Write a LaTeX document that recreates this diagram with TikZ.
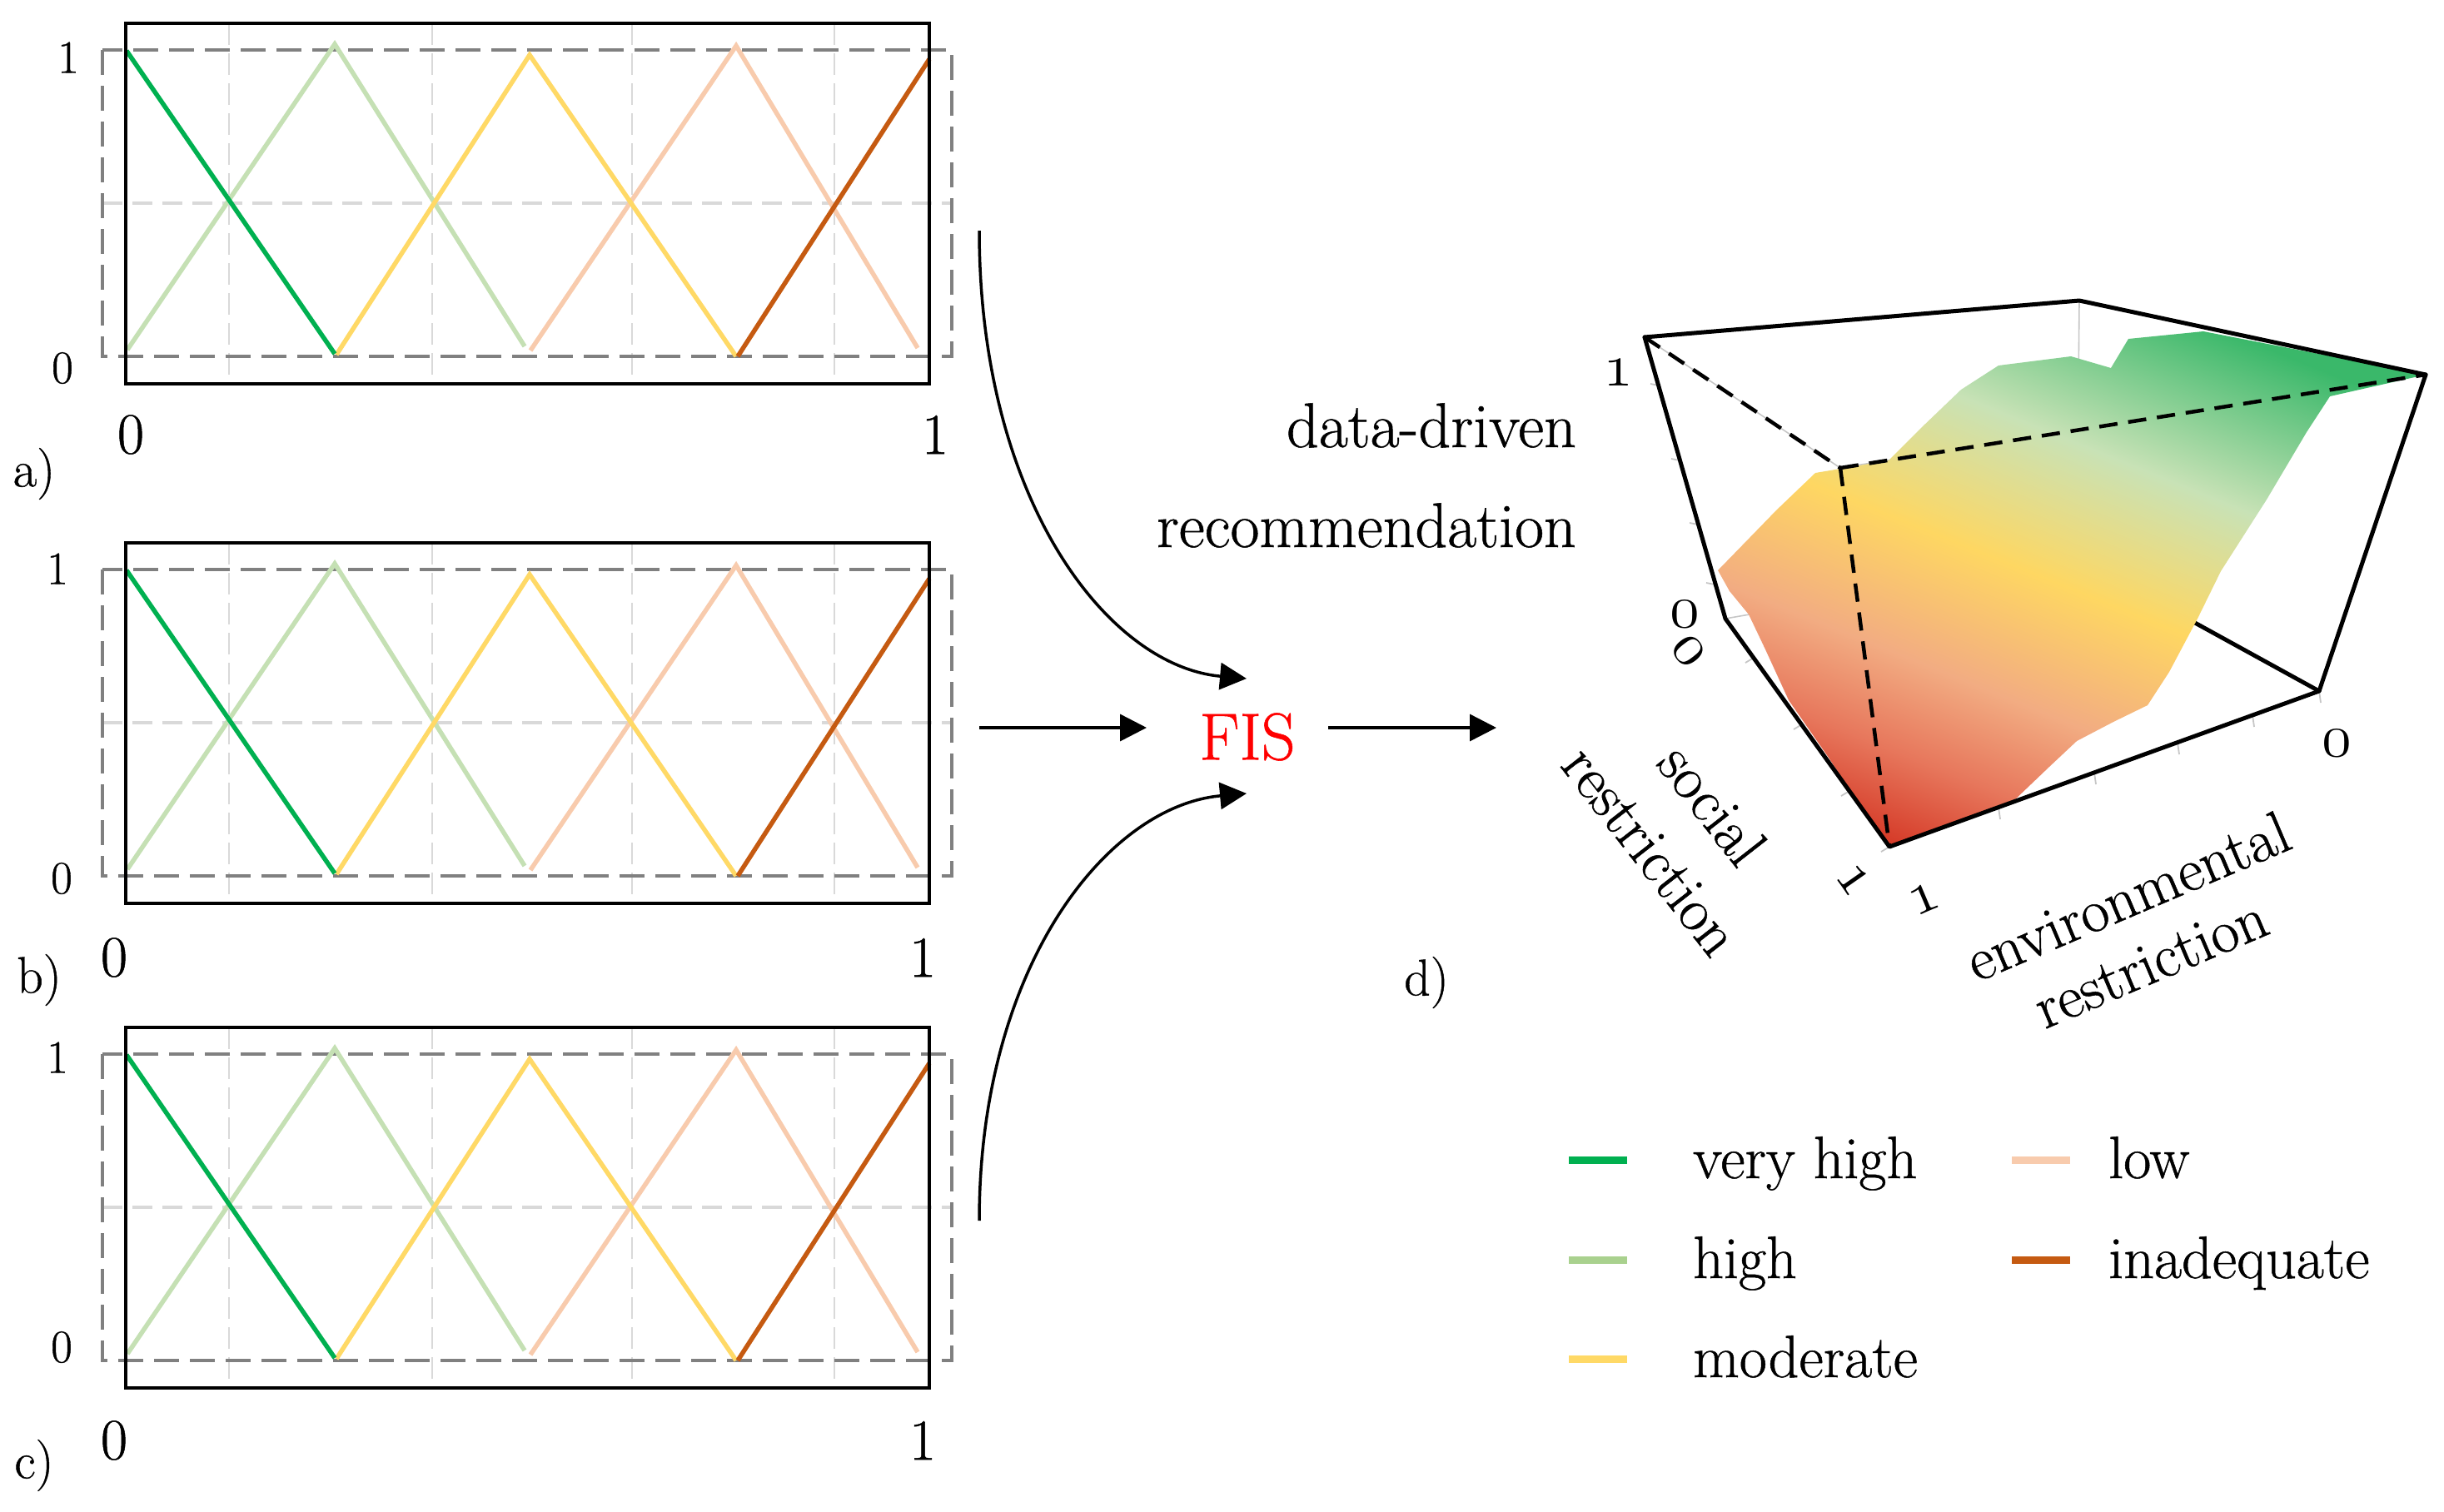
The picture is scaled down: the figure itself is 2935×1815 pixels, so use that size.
\RequirePackage{fix-cm}
\documentclass[tikz,border=0pt]{standalone}
\usepackage{fontspec}
\setmainfont{Latin Modern Roman}[FakeBold=0.7]
\usetikzlibrary{arrows.meta}
\definecolor{vhigh}{HTML}{00B050}
\definecolor{high}{HTML}{C5E0B4}
\definecolor{leghigh}{HTML}{A9D18E}
\definecolor{moder}{HTML}{FFD966}
\definecolor{lowc}{HTML}{F8CBAD}
\definecolor{inad}{HTML}{C55A11}
\definecolor{dgray}{HTML}{808080}
\definecolor{lgray}{HTML}{D9D9D9}
\definecolor{sred}{HTML}{D2301F}
\definecolor{sorr}{HTML}{E7775C}
\definecolor{ssal}{HTML}{F2AC82}
\definecolor{syel}{HTML}{FED762}
\definecolor{slg}{HTML}{C8E2B6}
\definecolor{sgr}{HTML}{3AB86A}
\pgfdeclareverticalshading{surfshade}{100bp}{color(0bp)=(sred); color(22bp)=(sred); color(31bp)=(sorr); color(39bp)=(ssal); color(50bp)=(syel); color(62bp)=(slg); color(76bp)=(sgr); color(100bp)=(sgr)}
\newcommand\osn[1]{{\usefont{OML}{cmm}{m}{it}#1}}
\newcommand\fsY{\fontsize{56}{67}\selectfont}
\newcommand\fsX{\fontsize{70}{84}\selectfont}
\newcommand\fsP{\fontsize{62}{74}\selectfont}
\newcommand\fsL{\fontsize{72}{86}\selectfont}
\newcommand\fsT{\fontsize{73}{88}\selectfont}
\newcommand\fsR{\fontsize{76}{90}\selectfont}
\newcommand\fsF{\fontsize{80}{96}\selectfont}
\tikzset{
  frame/.style={draw=black, line width=4.5pt},
  drect/.style={draw=dgray, line width=3.5pt, dash pattern=on 30pt off 13pt},
  midl/.style={draw=lgray, line width=3.5pt, dash pattern=on 24pt off 12pt},
  gridv/.style={draw=lgray, line width=2pt, dash pattern=on 26pt off 10pt},
  mf/.style={line width=5.5pt},
  arr/.style={draw, line width=3.5pt, -{Triangle[length=32pt,width=32pt]}},
  edgeA/.style={draw, line width=5pt, line cap=round, line join=round},
  dashA/.style={draw, line width=4.5pt, dash pattern=on 22pt off 13pt},
  hid/.style={draw=gray!45, line width=1.6pt},
  tickA/.style={draw=gray!45, line width=1.8pt},
  leg/.style={line width=9pt},
  ylab/.style={inner sep=0pt, font=\fsY},
  xlab/.style={inner sep=0pt, font=\fsX},
  plab/.style={inner sep=0pt, font=\fsP},
  legt/.style={inner sep=0pt, font=\fsL, anchor=base west},
  tlab/.style={inner sep=0pt, font=\fsT},
}
\newcommand\mfpanel[1]{%
\begin{scope}[shift={(0,#1)}]
  \foreach \gx in {275,519,759,1002} \draw[gridv] (\gx,0) -- (\gx,433);
  \draw[midl] (123,216) -- (1143,216);
  \draw[drect] (123,32) rectangle (1143,400);
  \draw[mf, high] (153,392) -- (402,25) -- (630,388);
  \draw[mf, lowc] (637,393) -- (884,27) -- (1102,390);
  \draw[mf, moder] (404,398) -- (636,38) -- (884,400);
  \draw[mf, vhigh] (152,33) -- (402,397);
  \draw[mf, inad] (886,400) -- (1116,43);
  \draw[frame] (151,0) rectangle (1116,433);
\end{scope}}
\begin{document}
\begin{tikzpicture}[x=1pt, y=-1pt]
\useasboundingbox (0,0) rectangle (2935,1815);
% ---- panels a), b), c)
\mfpanel{28}
\mfpanel{652}
\mfpanel{1234}
\node[ylab] (ay1) at (82,69) {1};
\node[ylab] (ay0) at (75,442) {0};
\node[xlab] (ax0) at (157,522) {0};
\node[xlab] (ax1) at (1123,522) {1};
\node[plab] (al) at (41,569) {a)};
\node[ylab] (by1) at (69,683) {1};
\node[ylab] (by0) at (74,1055) {0};
\node[xlab] (bx0) at (137,1150) {0};
\node[xlab] (bx1) at (1108,1150) {1};
\node[plab] (bl) at (47,1177) {b)};
\node[ylab] (cy1) at (69,1270) {1};
\node[ylab] (cy0) at (74,1618) {0};
\node[xlab] (cx0) at (137,1730) {0};
\node[xlab] (cx1) at (1108,1730) {1};
\node[plab] (cl) at (41,1760) {c)};
% ---- FIS and arrows
\node[inner sep=0pt, font=\fsF, text={rgb,255:red,255;green,0;blue,0}] (fis) at (1498,885) {FIS};
\coordinate (ca) at (1176,277);
\coordinate (cb) at (1176,874);
\coordinate (cc) at (1176,1466);
\coordinate (fa) at (1497,815);
\coordinate (fb) at (1377,874);
\coordinate (fc) at (1497,953);
\coordinate (fo) at (1595,874);
\coordinate (dd) at (1797,874);
\draw[arr] (ca) .. controls (1176,600) and (1330,800) .. (fa);
\draw[arr] (cb) -- (fb);
\draw[arr] (cc) .. controls (1176,1160) and (1330,968) .. (fc);
\draw[arr] (fo) -- (dd);
% ---- 3D plot
\coordinate (A) at (1975,405);
\coordinate (B) at (2497,361);
\coordinate (C) at (2913,450);
\coordinate (D) at (2210,562);
\coordinate (E) at (2072,743);
\coordinate (F) at (2269,1017);
\coordinate (G) at (2785,830);
\coordinate (K) at (2494,670);
\draw[hid] (B) -- (K);
\draw[hid] (E) -- (K);
\draw[hid] (A) -- (D) -- (C);
\draw[edgeA] (G) -- (K);
\shade[shading=surfshade, shading angle=-22]
  (2063,685) -- (2100,647) -- (2133,613) -- (2180,568) -- (2210,563) -- (2268,553)
  -- (2307,514) -- (2355,468) -- (2400,439) -- (2487,428) -- (2535,442) -- (2556,407)
  -- (2646,398) -- (2913,450) -- (2798,476) -- (2770,519) -- (2722,600) -- (2667,686)
  -- (2639,743) -- (2605,807) -- (2579,847) -- (2538,867) -- (2494,890) -- (2462,920)
  -- (2418,962) -- (2270,1016) -- (2245,985) -- (2196,910) -- (2148,841) -- (2120,780)
  -- (2100,738) -- (2077,710) -- cycle;
\foreach \xa/\ya/\xb/\yb in {1992/463/1982/461, 2017/553/2007/551, 2039/630/2029/628, 2059/702/2049/700,
  2106/790/2096/796, 2164/870/2154/876, 2221/950/2211/956, 2269/1017/2259/1023,
  2400/970/2402/984, 2515/928/2517/942, 2615/892/2617/906, 2705/859/2707/873, 2785/830/2787/844}
  \draw[tickA] (\xa,\ya) -- (\xb,\yb);
\draw[edgeA] (A) -- (B) -- (C);
\draw[edgeA] (A) -- (E) -- (F) -- (G) -- (C);
\draw[dashA] (A) -- (D);
\draw[dashA] (D) -- (C);
\draw[dashA] (D) -- (F);
\node[tlab] (z1) at (1943,448) {\osn{1}};
\node[tlab] (z0) at (2023,738) {\osn{0}};
\node[tlab, rotate=-52] (s0) at (2028,782) {\osn{0}};
\node[tlab, rotate=-55] (s1) at (2226,1057) {\osn{1}};
\node[tlab, rotate=23] (e1) at (2311,1080) {\osn{1}};
\node[tlab] (e0) at (2806,893) {\osn{0}};
\node[tlab, rotate=-52] (soc) at (2057,966) {social};
\node[tlab, rotate=-52] (socr) at (1982,1022) {restriction};
\node[tlab, rotate=23] (env) at (2555,1076) {environmental};
\node[tlab, rotate=23] (envr) at (2583,1157) {restriction};
\node[inner sep=0pt, font=\fsR, anchor=base east] (ddr) at (1893,537) {data-driven};
\node[inner sep=0pt, font=\fsR, anchor=base east] (rec) at (1893,657) {recommendation};
\node[plab] (dl) at (1713,1180) {d)};
% ---- legend
\draw[leg, vhigh] (1884,1393) -- (1954,1393);
\draw[leg, leghigh] (1884,1513) -- (1954,1513);
\draw[leg, moder] (1884,1632) -- (1954,1632);
\draw[leg, lowc] (2416,1393) -- (2486,1393);
\draw[leg, inad] (2416,1513) -- (2486,1513);
\node[legt] (lvh) at (2033,1415) {very high};
\node[legt] (lh) at (2033,1535) {high};
\node[legt] (lm) at (2033,1654) {moderate};
\node[legt] (ll) at (2532,1415) {low};
\node[legt] (li) at (2532,1535) {inadequate};
\end{tikzpicture}
\end{document}
